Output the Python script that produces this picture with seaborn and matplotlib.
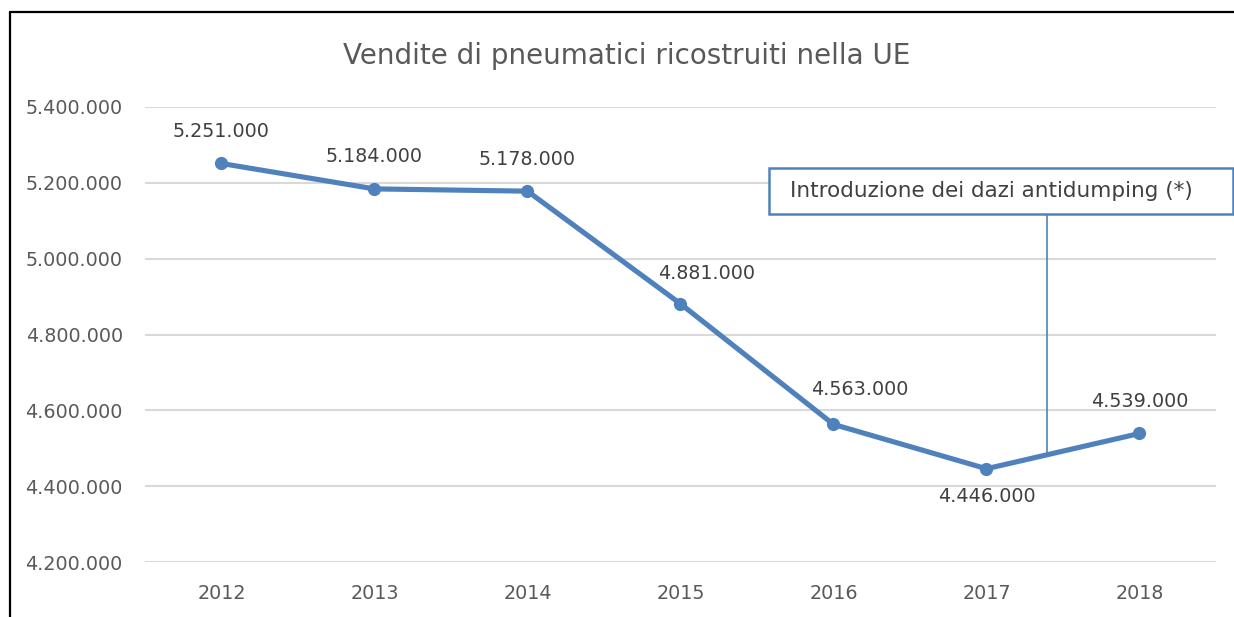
import pandas as pd
import matplotlib.pyplot as plt
import matplotlib.ticker as mticker
from matplotlib.patches import Rectangle
from matplotlib.lines import Line2D
import seaborn as sns

# Dati
anni = ["2012", "2013", "2014", "2015", "2016", "2017", "2018"]
vendite = [5251000, 5184000, 5178000, 4881000, 4563000, 4446000, 4539000]
titolo = "Vendite di pneumatici ricostruiti nella UE"
nota = "Introduzione dei dazi antidumping (*)"

df = pd.DataFrame({"Anno": anni, "Vendite": vendite})

def fmt_it(v):
    return f"{int(v):,}".replace(",", ".")

sns.set_style("white")
plt.rcParams['font.family'] = ['DejaVu Sans']

blu = "#4f81bd"
grigio = "#595959"

fig = plt.figure(figsize=(12.34, 6.17), dpi=100)
ax = fig.add_axes([0.1175, 0.0891, 0.8679, 0.7375])

sns.lineplot(data=df, x="Anno", y="Vendite", ax=ax, color=blu, linewidth=3.7,
             marker="o", markersize=9.5, markeredgewidth=0, sort=False)

ax.set_xlim(-0.5, 6.5)
ax.set_ylim(4200000, 5400000)
ax.yaxis.set_major_locator(mticker.MultipleLocator(200000))
ax.yaxis.set_major_formatter(mticker.FuncFormatter(lambda v, p: fmt_it(v)))
ax.grid(axis="y", color="#d9d9d9", linewidth=1.5)
ax.set_axisbelow(True)
for s in ax.spines.values():
    s.set_visible(False)
ax.tick_params(axis="both", length=0, labelsize=13.8, labelcolor=grigio)
ax.tick_params(axis="x", pad=16)
ax.tick_params(axis="y", pad=16)
ax.set_xlabel("")
ax.set_ylabel("")

# Etichette dei valori (spostamenti in punti, come nel grafico originale)
spost = {"2015": (19, 22), "2016": (19, 25), "2017": (0, -20)}
for i, v in enumerate(vendite):
    dx, dy = spost.get(anni[i], (0, 23))
    ax.annotate(fmt_it(v), (i, v), xytext=(dx, dy), textcoords="offset points",
                ha="center", va="center", fontsize=13.8, color="#404040")

# Titolo
fig.text(0.508, 0.91, titolo, ha="center", va="center", fontsize=20, color=grigio)

# Nota con riquadro e linea di richiamo
x_nota = 5.395
y_nota = vendite[5] + (x_nota - 5) * (vendite[6] - vendite[5])
box_bottom = 5117800
box_top = 5239000
ax.add_patch(Rectangle((3.578, box_bottom), 6.61 - 3.578, box_top - box_bottom,
                       facecolor="white", edgecolor=blu, linewidth=1.8, clip_on=False, zorder=5))
ax.plot([x_nota, x_nota], [box_bottom, y_nota], color=blu, linewidth=1.2, zorder=1)
ax.text(3.715, (box_top + box_bottom) / 2, nota, ha="left", va="center",
        fontsize=15.5, color="#404040", zorder=6)

# Bordo della figura
fig.add_artist(Line2D([0.0081, 1], [0.9806, 0.9806], color="black", linewidth=1.6))
fig.add_artist(Line2D([0.0081, 0.0081], [0, 0.9806], color="black", linewidth=1.6))

fig.savefig("out.png", dpi=100)
